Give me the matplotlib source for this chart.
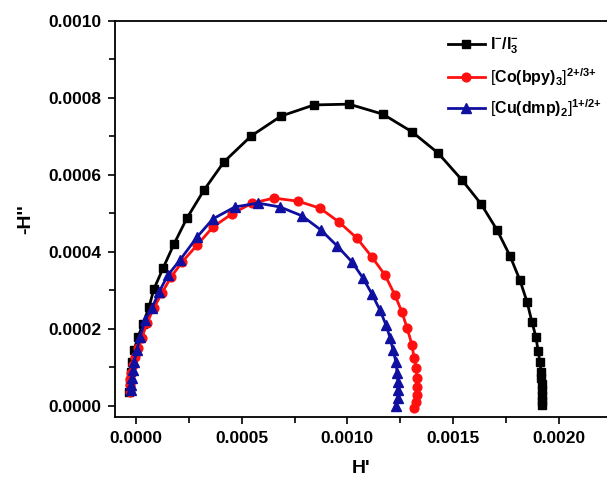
import matplotlib
matplotlib.use("Agg")
import matplotlib.pyplot as plt
from matplotlib.ticker import MultipleLocator, FormatStrFormatter

plt.rcParams['font.family'] = ['Liberation Sans', 'DejaVu Sans']
plt.rcParams['mathtext.fontset'] = 'custom'
plt.rcParams['mathtext.rm'] = 'Liberation Sans'
plt.rcParams['mathtext.bf'] = 'Liberation Sans:bold'
plt.rcParams['mathtext.it'] = 'Liberation Sans:italic'

# ---- data ----
iodide_x = [-0.000033, -0.000028, -0.000024, -0.000019, -0.0000095, 0.0000095, 0.000033,
            0.0000615, 0.000085, 0.000128, 0.000180, 0.000241, 0.000322, 0.000416, 0.000544,
            0.000686, 0.000842, 0.001008, 0.001168, 0.001306, 0.001429, 0.001542, 0.001632,
            0.001708, 0.001769, 0.001816, 0.001850, 0.001873, 0.001892, 0.001902, 0.001911,
            0.001916, 0.001918, 0.001921, 0.001921, 0.001921, 0.001921, 0.001921]
iodide_y = [0.000036, 0.000062, 0.000088, 0.000114, 0.000145, 0.000179, 0.000213,
            0.000257, 0.000304, 0.000358, 0.000421, 0.000488, 0.000561, 0.000634, 0.000701,
            0.000753, 0.000782, 0.000784, 0.000758, 0.000712, 0.000657, 0.000587, 0.000525,
            0.000457, 0.000390, 0.000327, 0.000270, 0.000218, 0.000179, 0.000143, 0.000114,
            0.000088, 0.000073, 0.000057, 0.000042, 0.000026, 0.000013, 0.000003]

co_x = [-0.000028, -0.000028, -0.000028, -0.000024, -0.000014, -0.000005, 0.0000095,
        0.000028, 0.000052, 0.000085, 0.000123, 0.000166, 0.000218, 0.000289, 0.000364,
        0.000454, 0.000549, 0.000653, 0.000766, 0.000870, 0.000960, 0.001045, 0.001116,
        0.001178, 0.001225, 0.001258, 0.001282, 0.001306, 0.001315, 0.001325, 0.001329,
        0.001329, 0.001329, 0.001325, 0.001315]
co_y = [0.000036, 0.000055, 0.000070, 0.000086, 0.000106, 0.000127, 0.000151,
        0.000177, 0.000216, 0.000255, 0.000294, 0.000335, 0.000374, 0.000418, 0.000465,
        0.000499, 0.000527, 0.000540, 0.000532, 0.000514, 0.000478, 0.000436, 0.000387,
        0.000340, 0.000288, 0.000244, 0.000203, 0.000158, 0.000125, 0.000099, 0.000073,
        0.000049, 0.000029, 0.000010, -0.000005]

cu_x = [-0.000024, -0.000024, -0.000019, -0.000014, -0.0000095, 0.0000047, 0.000019,
        0.000043, 0.000076, 0.000109, 0.000151, 0.000208, 0.000289, 0.000364, 0.000468,
        0.000577, 0.000681, 0.000785, 0.000875, 0.000951, 0.001022, 0.001074, 0.001116,
        0.001154, 0.001183, 0.001202, 0.001216, 0.001230, 0.001235, 0.001239, 0.001239,
        0.001239, 0.001230]
cu_y = [0.000042, 0.000055, 0.000073, 0.000094, 0.000114, 0.000145, 0.000179,
        0.000223, 0.000255, 0.000296, 0.000340, 0.000379, 0.000439, 0.000486, 0.000517,
        0.000527, 0.000517, 0.000494, 0.000457, 0.000416, 0.000374, 0.000332, 0.000291,
        0.000249, 0.000210, 0.000177, 0.000145, 0.000114, 0.000086, 0.000062, 0.000042,
        0.000021, 0.000000]

labels = [r'$\mathbf{I}^{\mathbf{-}}\mathbf{/I}_{\mathbf{3}}^{\mathbf{-}}$',
          r'$[\mathbf{Co(bpy)}_{\mathbf{3}}]^{\mathbf{2{+}/3{+}}}$',
          r'$[\mathbf{Cu(dmp)}_{\mathbf{2}}]^{\mathbf{1{+}/2{+}}}$']

fig = plt.figure(figsize=(6.07, 4.84), dpi=100)
ax = fig.add_axes([115/607, (484-417)/484, 1 - 115/607, (417-21)/484])

ax.plot(iodide_x, iodide_y, color='black', lw=2.0, marker='s', ms=5.8, label=labels[0])
ax.plot(co_x, co_y, color='#ff1010', lw=2.0, marker='o', ms=6.3, label=labels[1])
ax.plot(cu_x, cu_y, color='#1010a0', lw=2.0, marker='^', ms=7.3, label=labels[2])

ax.set_xlim(-0.0000993, 0.002228)
ax.set_ylim(-0.0000286, 0.0010)

ax.xaxis.set_major_locator(MultipleLocator(0.0005))
ax.xaxis.set_minor_locator(MultipleLocator(0.00025))
ax.yaxis.set_major_locator(MultipleLocator(0.0002))
ax.yaxis.set_minor_locator(MultipleLocator(0.0001))
ax.xaxis.set_major_formatter(FormatStrFormatter('%.4f'))
ax.yaxis.set_major_formatter(FormatStrFormatter('%.4f'))

ax.tick_params(which='major', direction='out', length=5, width=1.2, labelsize=12.5, pad=5)
ax.tick_params(which='minor', direction='out', length=4, width=1.2)
for lab in ax.get_xticklabels() + ax.get_yticklabels():
    lab.set_fontweight('bold')

for s in ['left', 'bottom', 'top']:
    ax.spines[s].set_linewidth(1.3)
ax.spines['right'].set_visible(False)

ax.set_xlabel("H'", fontsize=14, fontweight='bold', labelpad=10)
ax.set_ylabel("-H''", fontsize=14, fontweight='bold', labelpad=10)

leg = ax.legend(loc='upper left', bbox_to_anchor=(440/607, 1 - 28/484),
                bbox_transform=fig.transFigure, frameon=False, fontsize=11.5,
                handlelength=2.3, handletextpad=0.3, labelspacing=0.6, borderpad=0)

fig.savefig('out.png', dpi=100)
